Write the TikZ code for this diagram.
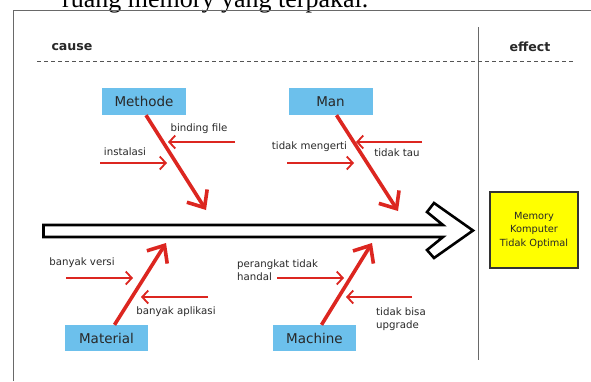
\documentclass[tikz,border=0pt]{standalone}
\usepackage{fontspec}
\setmainfont{DejaVu Sans}
\newfontfamily\serifdoc{Liberation Serif}
\usetikzlibrary{arrows.meta}
\definecolor{boxblue}{RGB}{108,192,236}
\definecolor{fishred}{RGB}{220,38,32}
\definecolor{effyellow}{RGB}{255,255,0}
\definecolor{framegray}{RGB}{105,105,105}
\definecolor{txtgray}{RGB}{40,40,40}
\begin{document}
\begin{tikzpicture}[x=1pt,y=-1pt,
  catbox/.style={fill=boxblue, minimum width=84pt, minimum height=27pt, inner sep=0pt,
    font=\fontsize{13.5}{15}\selectfont, text=txtgray},
  bone/.style={draw=fishred, line width=3.6pt, -{Straight Barb[length=14pt,width=24pt]}},
  rib/.style={draw=fishred, line width=1.8pt, -{Straight Barb[length=6pt,width=13pt]}},
  lbl/.style={font=\fontsize{10.2}{13}\selectfont, text=txtgray, inner sep=0pt},
  head/.style={font=\fontsize{12.6}{14}\selectfont\bfseries, text=txtgray, inner sep=0pt},
  frame/.style={draw=framegray, line width=1pt}]
\useasboundingbox (0,0) rectangle (591,381);
\clip (0,0) rectangle (591,381);
\fill[white] (0,0) rectangle (591,381);

% cut-off document text above the figure
\node[anchor=base west, inner sep=0pt, font=\serifdoc\fontsize{26}{30}\selectfont] (doctext) at (62,7.5) {ruang memory yang terpakai.};

% frame
\draw[frame] (13.5,381) -- (13.5,10.5) -- (591,10.5);
\draw[frame] (478,27) -- (478,360);
\draw[draw=framegray!80!black, line width=1pt, dash pattern=on 4pt off 3pt] (37,61) -- (574,61);

% headings
\node[head] (cause) at (72,47) {cause};
\node[head] (effect) at (530,47) {effect};

% main spine arrow
\draw[line width=2.6pt, fill=white, line join=miter]
  (43.5,225) -- (443,225) -- (427,212) -- (434,203) -- (473,230.5) -- (434,258) -- (427,250) -- (443,237) -- (43.5,237) -- cycle;

% effect box
\node[draw=black!80, line width=1.5pt, fill=effyellow, minimum width=88pt, minimum height=76pt,
  inner sep=0pt, align=center, font=\fontsize{9.8}{13.5}\selectfont, text=txtgray] (effbox) at (534,230)
  {Memory\\Komputer\\Tidak Optimal};

% category boxes
\node[catbox] (methode) at (144,101.5) {Methode};
\node[catbox] (man) at (330.5,101.5) {Man};
\node[catbox, minimum height=26pt, minimum width=83pt] (material) at (106.5,338) {Material};
\node[catbox, minimum height=26pt, minimum width=83pt] (machine) at (314.5,338) {Machine};

% bone tips
\coordinate (tipA) at (206,210);
\coordinate (tipB) at (398,211);
\coordinate (tipC) at (166,243);
\coordinate (tipD) at (372,243);

\draw[bone] ([xshift=2pt]methode.south) -- (tipA);
\draw[bone] ([xshift=6pt]man.south) -- (tipB);
\draw[bone] ([xshift=8pt]material.north) -- (tipC);
\draw[bone] ([xshift=7pt]machine.north) -- (tipD);

% ribs: start and end points
\coordinate (r1s) at (235,142); \coordinate (r1e) at (168,142);
\coordinate (r2s) at (100,163); \coordinate (r2e) at (167,163);
\coordinate (r3s) at (287,163); \coordinate (r3e) at (354,163);
\coordinate (r4s) at (422,142); \coordinate (r4e) at (356,142);
\coordinate (r5s) at (66,278);  \coordinate (r5e) at (133,278);
\coordinate (r6s) at (208,297); \coordinate (r6e) at (141,297);
\coordinate (r7s) at (277,278); \coordinate (r7e) at (344,278);
\coordinate (r8s) at (412,297); \coordinate (r8e) at (346,297);

\foreach \i in {1,...,8} {\draw[rib] (r\i s) -- (r\i e);}

% rib labels
\node[lbl] (l1) at (199,129) {binding file};
\node[lbl] (l2) at (125,152) {instalasi};
\node[lbl] (l3) at (309.5,147) {tidak mengerti};
\node[lbl] (l4) at (397,153) {tidak tau};
\node[lbl] (l5) at (82,263) {banyak versi};
\node[lbl] (l6) at (176,312) {banyak aplikasi};
\node[lbl, anchor=west, align=left] (l7) at (237,270.5) {perangkat tidak\\handal};
\node[lbl, anchor=west, align=left] (l8) at (376,319.5) {tidak bisa\\upgrade};
\end{tikzpicture}
\end{document}
